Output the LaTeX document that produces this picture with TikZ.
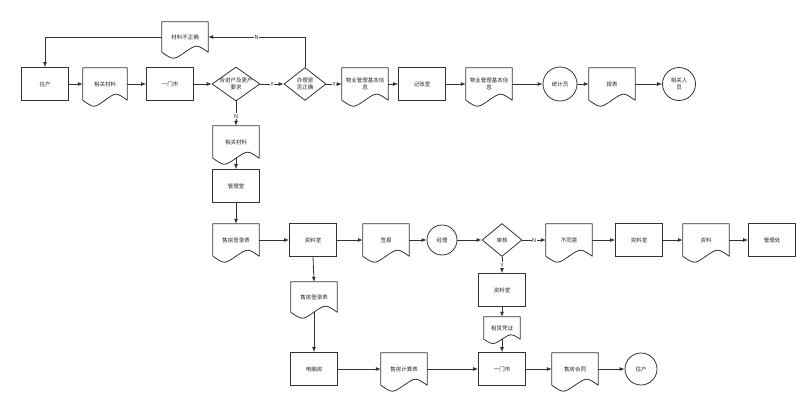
\documentclass[tikz,border=0pt]{standalone}
\usepackage{fontspec}
\newfontfamily\cjk{Noto Sans CJK SC}
\usetikzlibrary{shapes.geometric,arrows.meta,calc}
\tikzset{
  base/.style={font=\cjk\fontsize{5.5}{6.8}\selectfont, align=center, text=black!85, inner sep=1pt},
  procbox/.style={base, draw=black!80, line width=0.8pt, rectangle, minimum width=47pt, minimum height=33pt},
  docbox/.style={base, rectangle, minimum width=46pt, minimum height=32pt},
  roundbox/.style={base, draw=black!80, line width=0.8pt, circle},
  decision/.style={base, draw=black!80, line width=0.8pt, diamond, inner sep=0pt},
  conn/.style={draw=black!80, line width=0.8pt, -{Latex[length=5pt,width=4pt]}},
  lab/.style={base, fill=white, inner sep=0.6pt},
  docline/.style={draw=black!80, line width=0.8pt, line join=round}
}
\newcommand\docpath[2]{%
  \draw[docline] (#1.south west) -- (#1.north west) -- (#1.north east) -- (#1.south east)
    .. controls ($(#1.south east)!0.25!(#1.south west)+(0,-#2)$) .. (#1.south)
    .. controls ($(#1.south east)!0.75!(#1.south west)+(0,#2)$) .. (#1.south west);}
\begin{document}
\begin{tikzpicture}[x=1pt,y=-1pt]
\useasboundingbox[fill=white] (0,0) rectangle (812,400);

% top row
\node[procbox] (u1) at (45,84) {住户};
\node[docbox, minimum width=44pt] (d1) at (105,84) {相关材料};
\node[procbox] (r1) at (170,84) {一门市};
\node[decision, minimum width=48pt, minimum height=34pt, label={[base]center:合进户及更户\\要求}] (q1) at (236,84) {};
\node[decision, minimum width=42pt, minimum height=33pt, label={[base]center:办理是\\否正确}] (q2) at (305,84) {};
\node[docbox] (d2) at (365,84) {物业管理基本信\\息};
\node[procbox] (r2) at (422,84) {记账室};
\node[docbox] (d3) at (489,84) {物业管理基本信\\息};
\node[roundbox, minimum size=34pt] (c1) at (560,84) {统计员};
\node[docbox] (d4) at (612,84) {报表};
\node[roundbox, minimum size=33pt] (c2) at (679,84) {相关人\\员};
\node[docbox, minimum height=30pt] (d0) at (185,37) {材料不正确};

% column and second row
\node[docbox] (d5) at (236,142) {相关材料};
\node[procbox] (r3) at (236,186) {管理室};
\node[docbox] (d6) at (236,240) {售房登录表};
\node[procbox] (r4) at (313,240) {资料室};
\node[docbox] (d7) at (386,240) {签报};
\node[roundbox, minimum size=30pt] (c3) at (442,240) {经理};
\node[decision, minimum width=40pt, minimum height=33pt, label={[base]center:审核}] (q3) at (502,240) {};
\node[docbox] (d8) at (569,240) {不同意};
\node[procbox] (r5) at (639,240) {资料室};
\node[docbox] (d9) at (706,240) {资料};
\node[procbox] (r6) at (772,240) {管理处};

% lower part
\node[docbox, minimum height=30pt] (d11) at (314,297) {售房登录表};
\node[procbox] (r9) at (314,369) {电脑房};
\node[docbox] (d12) at (404,369) {售房计算表};
\node[procbox] (r8) at (502,369) {一门市};
\node[docbox] (d13) at (575,369) {售房合同};
\node[roundbox, minimum size=32pt] (c4) at (641,369) {住户};
\node[procbox] (r7) at (502,290) {资料室};
\node[docbox, minimum width=36pt, minimum height=22pt] (d10) at (502,328) {租赁凭证};

% document outlines
\docpath{d1}{8}
\docpath{d2}{8}
\docpath{d3}{8}
\docpath{d4}{8}
\docpath{d0}{8}
\docpath{d5}{8}
\docpath{d6}{8}
\docpath{d7}{8}
\docpath{d8}{8}
\docpath{d9}{8}
\docpath{d11}{8}
\docpath{d12}{8}
\docpath{d13}{8}
\docpath{d10}{6}

% connectors top row
\draw[conn] (u1) -- (d1);
\draw[conn] (d1) -- (r1);
\draw[conn] (r1) -- (q1);
\draw[conn] (q1) -- node[lab] {Y} (q2);
\draw[conn] (q2) -- node[lab] {Y} (d2);
\draw[conn] (d2) -- (r2);
\draw[conn] (r2) -- (d3);
\draw[conn] (d3) -- (c1);
\draw[conn] (c1) -- (d4);
\draw[conn] (d4) -- (c2);
\draw[conn] (q2.north) |- node[lab, pos=0.75] {N} (d0.east);
\draw[conn] (d0.west) -| (u1.north);

% column
\draw[conn] (q1.south) -- node[lab, pos=0.6] {N} (d5.north);
\draw[conn] (d5.south) -- (r3.north);
\draw[conn] (r3.south) -- (d6.north);

% second row
\draw[conn] (d6) -- (r4);
\draw[conn] (r4) -- (d7);
\draw[conn] (d7) -- (c3);
\draw[conn] (c3) -- (q3);
\draw[conn] (q3) -- node[lab] {N} (d8);
\draw[conn] (d8) -- (r5);
\draw[conn] (r5) -- (d9);
\draw[conn] (d9) -- (r6);
\draw[conn] (q3.south) -- node[lab] {Y} (r7.north);
\draw[conn] (r7.south) -- (d10.north);
\draw[conn] (d10.south) -- (r8.north);

% lower part
\draw[conn] (r4.south) -- (d11.north);
\draw[conn] (d11.south) -- (r9.north);
\draw[conn] (r9) -- (d12);
\draw[conn] (d12) -- (r8);
\draw[conn] (r8) -- (d13);
\draw[conn] (d13) -- (c4);
\end{tikzpicture}
\end{document}
